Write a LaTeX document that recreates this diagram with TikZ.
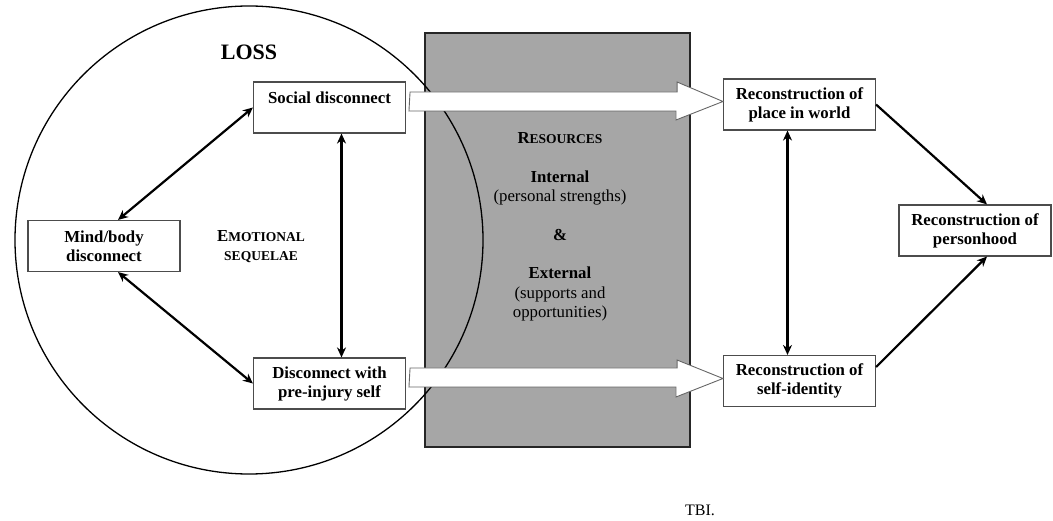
\documentclass[tikz,border=0pt]{standalone}
\usepackage{fontspec}
\setmainfont{Liberation Serif}
\usetikzlibrary{arrows.meta,calc}
\newcommand{\Sc}[1]{{\fontsize{13.5}{19}\selectfont #1}}
\tikzset{
  box/.style={draw=black!70, line width=1.1pt, fill=white, minimum width=152pt, minimum height=51pt, align=center, inner sep=2pt, font=\bfseries\fontsize{16.8}{19}\selectfont},
  hollow/.style={draw=black!60, line width=0.9pt, fill=white},
  link/.style={line width=2.2pt, {Stealth[length=10pt,width=9pt]}-{Stealth[length=10pt,width=9pt]}},
  onelink/.style={line width=2.2pt, -{Stealth[length=10pt,width=9pt]}},
}

\begin{document}
\begin{tikzpicture}[x=1pt,y=-1pt]
  \useasboundingbox (0,0) rectangle (1053,521);
  % resources and loss
  \node[draw=black!85, line width=1.6pt, fill=black!35, minimum width=265pt, minimum height=414pt] (res) at (557.5,240) {};
  \node[draw, circle, line width=1.3pt, minimum size=468pt, inner sep=0pt] (loss) at (249,240) {};
  \node[font=\bfseries\fontsize{22}{26}\selectfont] (losslbl) at (249,52) {LOSS};
  \node[align=center, font=\bfseries\fontsize{16.8}{19}\selectfont] (emo) at (261,247) {E\Sc{MOTIONAL}\\\Sc{SEQUELAE}};
  \node[align=center, font=\fontsize{16.8}{19.5}\selectfont] (reslbl) at (560,227)
    {\textbf{R\Sc{ESOURCES}}\\[19pt]\textbf{Internal}\\(personal strengths)\\[19pt]\textbf{\&}\\[19pt]\textbf{External}\\(supports and\\opportunities)};
  % boxes
  \node[box] (soc) at (329.5,107.5) {Social disconnect\\\mbox{}};
  \node[box] (mind) at (104,246) {Mind/body\\disconnect};
  \node[box] (dis) at (329.5,383.5) {Disconnect with\\pre-injury self};
  \node[box] (place) at (799.5,104.5) {Reconstruction of\\place in world};
  \node[box] (self) at (799.5,381) {Reconstruction of\\self-identity};
  \node[box] (person) at (975,230.5) {Reconstruction of\\personhood};
  % hollow arrows through resources
  \draw[hollow] ($(soc.east |- place.west)+(4,-12.5)$) -- ++(267,0) -- ++(0,-10) -- ([yshift=3pt]place.west)
    -- ++(-47,18.5) -- ++(0,-9) -- ++(-267,0) -- cycle;
  \draw[hollow] ($(dis.east |- self.west)+(4,-13)$) -- ++(267,0) -- ++(0,-8) -- ([yshift=2.5pt]self.west)
    -- ++(-47,18.5) -- ++(0,-10) -- ++(-267,0) -- cycle;
  % arrows
  \path[link]
    ([xshift=14pt]mind.north) edge (soc.west)
    ([xshift=14pt]mind.south) edge (dis.west)
    ([xshift=12pt]soc.south) edge ([xshift=12pt]dis.north)
    ([xshift=-12pt]place.south) edge ([xshift=-12pt]self.north);
  \path[onelink]
    (place.east) edge ([xshift=12pt]person.north)
    ([yshift=14pt]self.east) edge ([xshift=12pt]person.south);
  \node[font=\fontsize{16}{19}\selectfont] (tbi) at (700,510) {TBI.};
\end{tikzpicture}
\end{document}
